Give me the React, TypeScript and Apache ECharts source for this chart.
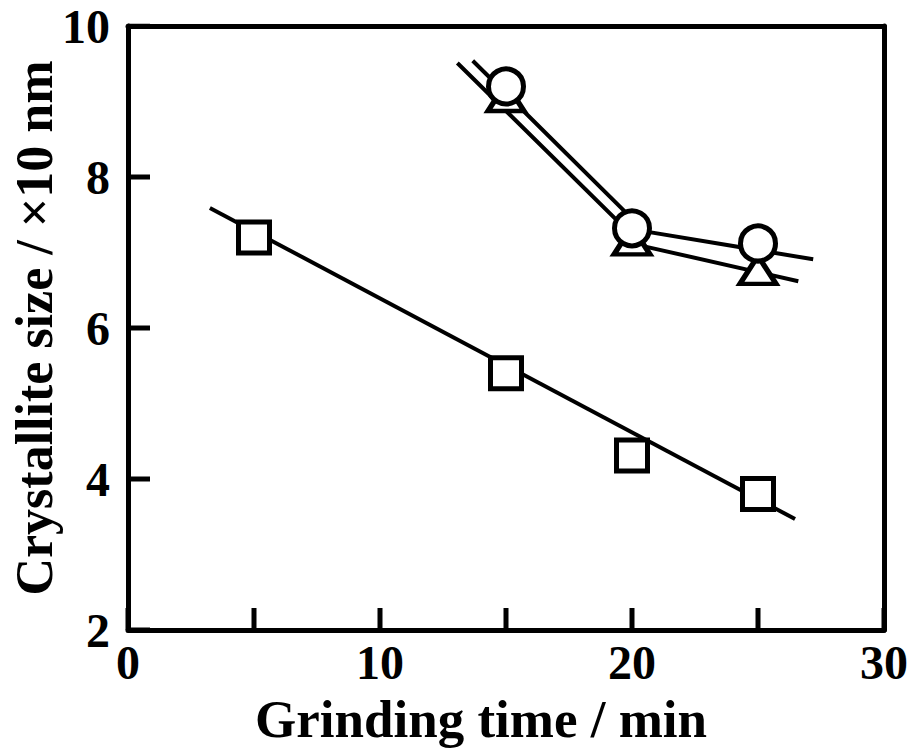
import React, { useEffect, useRef } from "react";
import * as echarts from "echarts";

// Measured markers
const squareX = [5, 15, 20, 25];
const squareY = [7.2, 5.4, 4.31, 3.8];
const circleX = [15, 20, 25];
const circleY = [9.2, 7.32, 7.12];
const triangleX = [15, 20, 25];
const triangleY = [9.06, 7.16, 6.77];

// Hand-drawn guide lines (vertices)
const squareFitX = [3.25, 26.47];
const squareFitY = [7.59, 3.47];
const circleFitX = [13.68, 20.51, 27.19];
const circleFitY = [9.54, 7.28, 6.91];
const triangleFitX = [13.07, 20.44, 26.6];
const triangleFitY = [9.51, 7.085, 6.62];

// Axis ticks (inward)
const xTicks = [0, 5, 10, 15, 20, 25, 30];
const yTicks = [2, 4, 6, 8, 10];
const X_MIN = 0;
const X_MAX = 30;
const Y_MIN = 2;
const Y_MAX = 10;

const xTitle = "Grinding time / min";
const yTitle = "Crystallite size / ×10 nm";

const zip = (xs: number[], ys: number[]) => xs.map((x, i) => [x, ys[i]]);

const FONT = '"Liberation Serif", "Times New Roman", serif';

const W = 919;
const H = 755;
const G_LEFT = 128;
const G_RIGHT = 35;
const G_TOP = 26;
const G_BOTTOM = 125;
const TICK_PX = 22;

export default function App() {
  const ref = useRef<HTMLDivElement>(null);
  useEffect(() => {
    if (!ref.current) return;
    const chart = echarts.init(ref.current, null, { renderer: "svg" });
    const lineSeries = (data: number[][], width = 4, z = 1) => ({
      type: "line",
      data,
      symbol: "none",
      z,
      silent: true,
      lineStyle: { color: "#000", width, cap: "butt" },
    });
    const markerStyle = { color: "#fff", borderColor: "#000", borderWidth: 5, opacity: 1 };
    const axisLine = { show: true, onZero: false, lineStyle: { color: "#000", width: 5 } };
    // tick length converted into data units via the plot size
    const yPerPx = (Y_MAX - Y_MIN) / (H - G_TOP - G_BOTTOM);
    const xPerPx = (X_MAX - X_MIN) / (W - G_LEFT - G_RIGHT);
    const xTickSeries = xTicks.map((x) =>
      lineSeries([[x, Y_MIN], [x, Y_MIN + TICK_PX * yPerPx]], 5, 5)
    );
    const yTickSeries = yTicks.map((y) =>
      lineSeries([[X_MIN, y], [X_MIN + TICK_PX * xPerPx, y]], 5, 5)
    );
    chart.setOption({
      animation: false,
      backgroundColor: "#fff",
      grid: {
        left: G_LEFT,
        right: G_RIGHT,
        top: G_TOP,
        bottom: G_BOTTOM,
        containLabel: false,
        outerBoundsMode: "none",
        show: false,
      },
      xAxis: [
        {
          type: "value",
          min: X_MIN,
          max: X_MAX,
          interval: 5,
          position: "bottom",
          name: xTitle,
          nameLocation: "middle",
          nameGap: 62,
          nameMoveOverlap: false,
          nameTextStyle: {
            fontFamily: FONT,
            fontWeight: "bold",
            fontSize: 53,
            color: "#000",
            padding: [0, 50, 0, 0],
          },
          axisLine,
          axisTick: { show: false },
          axisLabel: {
            margin: 8,
            fontFamily: FONT,
            fontWeight: "bold",
            fontSize: 48,
            color: "#000",
            formatter: (v: number) => (v % 10 === 0 ? String(v) : ""),
          },
          splitLine: { show: false },
        },
        {
          type: "value",
          min: X_MIN,
          max: X_MAX,
          interval: 5,
          position: "top",
          axisLine,
          axisTick: { show: false },
          axisLabel: { show: false },
          splitLine: { show: false },
        },
      ],
      yAxis: [
        {
          type: "value",
          min: Y_MIN,
          max: Y_MAX,
          interval: 2,
          position: "left",
          name: yTitle,
          nameLocation: "middle",
          nameGap: 68,
          nameMoveOverlap: false,
          nameTextStyle: {
            fontFamily: FONT,
            fontWeight: "bold",
            fontSize: 52,
            color: "#000",
          },
          axisLine,
          axisTick: { show: false },
          axisLabel: {
            margin: 18,
            fontFamily: FONT,
            fontWeight: "bold",
            fontSize: 48,
            color: "#000",
          },
          splitLine: { show: false },
        },
        {
          type: "value",
          min: Y_MIN,
          max: Y_MAX,
          interval: 2,
          position: "right",
          axisLine,
          axisTick: { show: false },
          axisLabel: { show: false },
          splitLine: { show: false },
        },
      ],
      series: [
        ...xTickSeries,
        ...yTickSeries,
        lineSeries(zip(squareFitX, squareFitY)),
        lineSeries(zip(circleFitX, circleFitY)),
        lineSeries(zip(triangleFitX, triangleFitY)),
        {
          type: "scatter",
          data: zip(squareX, squareY),
          symbol: "rect",
          symbolSize: 31,
          z: 3,
          itemStyle: markerStyle,
        },
        {
          type: "scatter",
          data: zip(triangleX, triangleY),
          symbol: "triangle",
          symbolSize: [36, 28],
          z: 3,
          itemStyle: markerStyle,
        },
        {
          type: "scatter",
          data: zip(circleX, circleY),
          symbol: "circle",
          symbolSize: 35,
          z: 4,
          itemStyle: markerStyle,
        },
      ],
    });
    return () => chart.dispose();
  }, []);
  return (
    <div
      ref={ref}
      style={{ position: "absolute", left: 0, top: 0, width: W, height: H }}
    />
  );
}
